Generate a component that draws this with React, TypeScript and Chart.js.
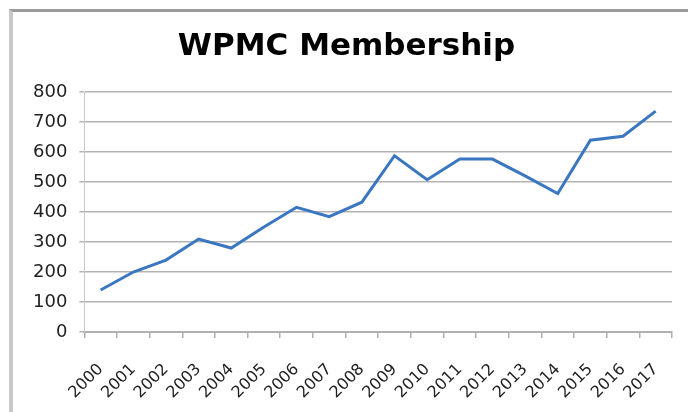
import React, { useEffect, useRef } from "react";
import { Chart, registerables } from "chart.js";

Chart.register(...registerables);

const years = [
  "2000", "2001", "2002", "2003", "2004", "2005", "2006", "2007", "2008",
  "2009", "2010", "2011", "2012", "2013", "2014", "2015", "2016", "2017",
];
const members = [140, 200, 240, 310, 280, 350, 416, 385, 433, 588, 508, 577, 577, 521, 462, 640, 653, 737];
const yMin = 0;
const yMax = 800;
const yStep = 100;
const titleText = "WPMC Membership";

export default function App() {
  const ref = useRef<HTMLCanvasElement | null>(null);

  useEffect(() => {
    if (!ref.current) return;
    const chart = new Chart(ref.current, {
      type: "line",
      data: {
        labels: years,
        datasets: [
          {
            data: members,
            borderColor: "#3b77c0",
            borderWidth: 3,
            pointRadius: 0,
            tension: 0,
            fill: false,
          },
        ],
      },
      options: {
        responsive: false,
        animation: false,
        layout: { padding: { left: 21, right: 16, bottom: 0, top: 0 } },
        plugins: {
          legend: { display: false },
          tooltip: { enabled: false },
          title: {
            display: true,
            text: titleText,
            color: "#000",
            font: { family: "DejaVu Sans", size: 31, weight: "bold" },
            padding: { top: 28, bottom: 27 },
          },
        },
        scales: {
          x: {
            type: "category",
            offset: true,
            afterFit: (scale: any) => {
              scale.height = 80;
              scale.paddingRight = 0;
              scale.paddingLeft = 0;
            },
            grid: {
              offset: true,
              drawOnChartArea: false,
              drawTicks: true,
              tickLength: 6,
              color: "#b0b0b0",
              lineWidth: 1.5,
            },
            border: { display: true, color: "#b0b0b0", width: 2 },
            ticks: {
              autoSkip: false,
              maxRotation: 45,
              minRotation: 45,
              color: "#222",
              font: { family: "DejaVu Sans", size: 16 },
              padding: 22,
            },
          },
          y: {
            min: yMin,
            max: yMax,
            ticks: {
              stepSize: yStep,
              color: "#222",
              font: { family: "DejaVu Sans", size: 18 },
              padding: 12,
            },
            grid: { color: "#b3b3b3", lineWidth: 1.5, tickLength: 5 },
            border: { display: true, color: "#c8c8c8", width: 1 },
          },
        },
      },
    });
    return () => chart.destroy();
  }, []);

  return (
    <div style={{ position: "absolute", left: 0, top: 0, width: 688, height: 412, background: "#fff" }}>
      <canvas ref={ref} width={688} height={412} style={{ display: "block" }} />
      <div
        style={{
          position: "absolute",
          left: 9,
          top: 9,
          width: 720,
          height: 440,
          borderTop: "3px solid #9a9a9a",
          borderLeft: "4px solid #c8c8c8",
          pointerEvents: "none",
        }}
      />
    </div>
  );
}
